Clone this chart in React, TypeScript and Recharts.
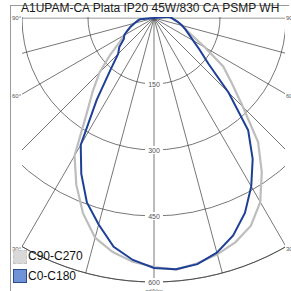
import { RadarChart, Radar, PolarGrid, PolarAngleAxis, PolarRadiusAxis } from "recharts";

// gamma angles (deg from nadir), every 5 deg
const gamma = [0, 5, 10, 15, 20, 25, 30, 35, 40, 45, 50, 55, 60, 65, 70, 75, 80, 85, 90,
  95, 100, 105, 110, 115, 120, 125, 130, 135, 140, 145, 150, 155, 160, 165, 170, 175, 180];

// cd/klm, C0 (right) and C180 (left)
const c0 = [573, 568, 552, 526, 489, 442, 391, 333, 240, 161, 127, 103, 87, 76, 66, 56, 47, 40, 34,
  0, 0, 0, 0, 0, 0, 0, 0, 0, 0, 0, 0, 0, 0, 0, 0, 0, 0];
const c180 = [573, 568, 552, 528, 486, 446, 391, 333, 227, 154, 115, 103, 84, 78, 66, 56, 46, 38, 32,
  0, 0, 0, 0, 0, 0, 0, 0, 0, 0, 0, 0, 0, 0, 0, 0, 0, 0];
// C90 (right) and C270 (left)
const c90 = [574, 566, 556, 542, 521, 483, 427, 368, 286, 231, 192, 134, 97, 77, 66, 56, 47, 40, 34,
  0, 0, 0, 0, 0, 0, 0, 0, 0, 0, 0, 0, 0, 0, 0, 0, 0, 0];
const c270 = [574, 566, 556, 540, 517, 472, 418, 361, 268, 216, 175, 130, 95, 77, 66, 56, 46, 38, 32,
  0, 0, 0, 0, 0, 0, 0, 0, 0, 0, 0, 0, 0, 0, 0, 0, 0, 0];

const ringTicks = [150, 300, 450, 600];
// spokes every 15 deg around the circle (only the lower half stays visible)
const spokes = [0, 15, 30, 45, 60, 75, 90, 105, 120, 135, 150, 165, 180, 195, 210, 225, 240, 255, 270,
  285, 300, 315, 330, 345];
const angleLabels = ["90°", "60°", "30°"];

const title = "A1UPAM-CA Plata IP20 45W/830 CA PSMP WH";

// right half: gamma 0..180, then left half back down: 175..5
const data = [
  ...gamma.map((g, i) => ({ key: "R" + g, blue: c0[i], gray: c90[i] })),
  ...gamma
    .map((g, i) => ({ key: "L" + g, blue: c180[i], gray: c270[i] }))
    .slice(1, -1)
    .reverse(),
];
const spokeData = spokes.map((s) => ({ key: "S" + s, v: 0 }));

function RingTick(props: any) {
  const { x, y, payload } = props;
  if (!payload || payload.value === 0) return null;
  return (
    <g>
      <rect x={x - 9} y={y - 4} width={18} height={8} fill="#fff" />
      <text x={x} y={y + 2.5} textAnchor="middle" fontSize={7} fill="#555" fontFamily="Liberation Sans, Arial">
        {payload.value}
      </text>
    </g>
  );
}

const small = { position: "absolute" as const, fontSize: 6, color: "#555", lineHeight: "6px" };
const polar = { width: 291, height: 291, cx: 154, cy: 18, outerRadius: 264, startAngle: -90, endAngle: 270 };

export default function App() {
  return (
    <div
      style={{
        position: "absolute",
        left: 0,
        top: 0,
        width: 291,
        height: 291,
        overflow: "hidden",
        background: "#fff",
        fontFamily: "'Liberation Sans', Arial, sans-serif",
      }}
    >
      <div
        style={{
          position: "absolute",
          left: 10,
          top: 5,
          width: 278,
          height: 300,
          borderLeft: "1px solid #9a9a9a",
          borderTop: "1px solid #9a9a9a",
        }}
      />
      {/* spokes */}
      <div style={{ position: "absolute", left: 0, top: 0, width: 291, height: 291, clipPath: "inset(17.5px 6px 0px 22px)" }}>
        <RadarChart {...polar} data={spokeData} margin={{ top: 0, right: 0, bottom: 0, left: 0 }}>
          <PolarGrid gridType="circle" stroke="#3c3c3c" strokeWidth={0.7} />
          <PolarAngleAxis dataKey="key" tick={false} axisLine={false} tickLine={false} />
          <PolarRadiusAxis type="number" domain={[0, 600]} ticks={[600]} tick={false} axisLine={false} tickLine={false} />
          <Radar dataKey="v" stroke="none" fill="none" dot={false} isAnimationActive={false} />
        </RadarChart>
      </div>
      {/* rings and curves */}
      <div style={{ position: "absolute", left: 0, top: 0, width: 291, height: 291, clipPath: "inset(6px 6px 0px 22px)" }}>
        <RadarChart {...polar} data={data} margin={{ top: 0, right: 0, bottom: 0, left: 0 }}>
          <PolarGrid gridType="circle" radialLines={false} stroke="#3c3c3c" strokeWidth={0.7} />
          <PolarAngleAxis dataKey="key" tick={false} axisLine={false} tickLine={false} />
          <PolarRadiusAxis
            angle={-90}
            type="number"
            domain={[0, 600]}
            ticks={ringTicks}
            axisLine={false}
            tickLine={false}
            tick={RingTick}
          />
          <Radar dataKey="gray" stroke="#bdbdbd" strokeWidth={2.2} fill="none" fillOpacity={0} dot={false} isAnimationActive={false} />
          <Radar dataKey="blue" stroke="#1d3f96" strokeWidth={2} fill="none" fillOpacity={0} dot={false} isAnimationActive={false} />
        </RadarChart>
      </div>

      <div
        style={{
          position: "absolute",
          left: 21,
          top: 6,
          height: 11,
          paddingRight: 2,
          background: "#fff",
          fontSize: 12,
          color: "#1a1a1a",
          whiteSpace: "nowrap",
          lineHeight: "11px",
          overflow: "visible",
        }}
      >
        <span style={{ position: "relative", top: -3 }}>{title}</span>
      </div>

      <div style={{ ...small, left: 12, top: 15 }}>{angleLabels[0]}</div>
      <div style={{ ...small, left: 12, top: 93 }}>{angleLabels[1]}</div>
      <div style={{ ...small, left: 12, top: 246 }}>{angleLabels[2]}</div>
      <div style={{ ...small, left: 286, top: 15 }}>{angleLabels[0]}</div>
      <div style={{ ...small, left: 286, top: 93 }}>{angleLabels[1]}</div>
      <div style={{ ...small, left: 286, top: 246 }}>{angleLabels[2]}</div>

      <div style={{ ...small, left: 0, width: 308, textAlign: "center", top: 288, fontSize: 6 }}>cd/klm</div>

      <div
        style={{
          position: "absolute",
          left: 13,
          top: 250,
          width: 12,
          height: 12,
          background: "#d9d9d9",
          border: "1px dashed #c4c4c4",
        }}
      />
      <div style={{ position: "absolute", left: 28, top: 249, fontSize: 12, color: "#111", lineHeight: "14px" }}>C90-C270</div>
      <div
        style={{
          position: "absolute",
          left: 13,
          top: 269,
          width: 12,
          height: 12,
          background: "#6f93d6",
          border: "1px solid #2c4c8c",
        }}
      />
      <div style={{ position: "absolute", left: 28, top: 269, fontSize: 12, color: "#111", lineHeight: "14px" }}>C0-C180</div>
    </div>
  );
}
